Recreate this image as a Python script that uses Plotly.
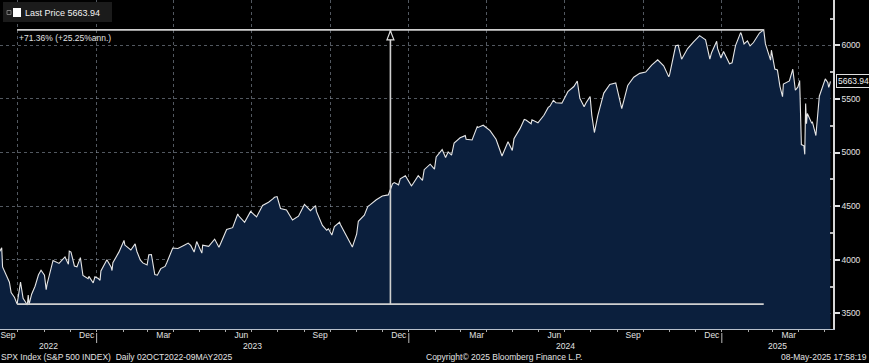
import pandas as pd
import plotly.graph_objects as go

# ---------------- data (SPX daily closes) ----------------
dates = [
    "2022-09-09", "2022-09-12", "2022-09-13", "2022-09-16", "2022-09-21", "2022-09-23", "2022-09-27", "2022-09-30",
    "2022-10-04", "2022-10-07", "2022-10-12", "2022-10-13", "2022-10-14", "2022-10-17", "2022-10-21", "2022-10-25",
    "2022-10-28", "2022-11-01", "2022-11-03", "2022-11-04", "2022-11-10", "2022-11-11", "2022-11-18", "2022-11-25",
    "2022-11-29", "2022-11-30", "2022-12-02", "2022-12-06", "2022-12-09", "2022-12-13", "2022-12-16", "2022-12-22",
    "2022-12-23", "2022-12-28", "2022-12-30",
    "2023-01-03", "2023-01-05", "2023-01-06", "2023-01-13", "2023-01-18", "2023-01-19", "2023-01-20", "2023-01-27",
    "2023-02-02", "2023-02-03", "2023-02-10", "2023-02-15", "2023-02-17", "2023-02-21", "2023-02-24", "2023-03-01",
    "2023-03-03", "2023-03-06", "2023-03-10", "2023-03-13", "2023-03-17", "2023-03-22", "2023-03-24", "2023-03-31",
    "2023-04-06", "2023-04-14", "2023-04-18", "2023-04-21", "2023-04-25", "2023-04-28", "2023-05-04", "2023-05-05",
    "2023-05-12", "2023-05-19", "2023-05-24", "2023-05-26", "2023-06-02", "2023-06-09", "2023-06-15", "2023-06-16",
    "2023-06-23", "2023-06-30", "2023-07-06", "2023-07-07", "2023-07-14", "2023-07-21", "2023-07-26", "2023-07-28",
    "2023-07-31", "2023-08-04", "2023-08-11", "2023-08-18", "2023-08-25", "2023-09-01", "2023-09-08", "2023-09-14",
    "2023-09-15", "2023-09-22", "2023-09-27", "2023-09-29", "2023-10-03", "2023-10-06", "2023-10-12", "2023-10-13",
    "2023-10-20", "2023-10-27", "2023-11-01", "2023-11-03", "2023-11-10", "2023-11-14", "2023-11-17", "2023-11-24",
    "2023-12-01", "2023-12-08", "2023-12-13", "2023-12-15", "2023-12-20", "2023-12-22", "2023-12-28", "2023-12-29",
    "2024-01-04", "2024-01-05", "2024-01-12", "2024-01-17", "2024-01-19", "2024-01-26", "2024-01-31", "2024-02-02",
    "2024-02-09", "2024-02-13", "2024-02-16", "2024-02-20", "2024-02-23", "2024-03-01", "2024-03-07", "2024-03-08",
    "2024-03-15", "2024-03-21", "2024-03-22", "2024-03-28", "2024-04-05", "2024-04-12", "2024-04-19", "2024-04-26",
    "2024-05-01", "2024-05-03", "2024-05-10", "2024-05-15", "2024-05-17", "2024-05-23", "2024-05-24", "2024-05-31",
    "2024-06-07", "2024-06-12", "2024-06-14", "2024-06-18", "2024-06-21", "2024-06-28", "2024-07-05", "2024-07-12",
    "2024-07-16", "2024-07-19", "2024-07-24", "2024-07-26", "2024-07-31", "2024-08-02", "2024-08-05", "2024-08-09",
    "2024-08-16", "2024-08-23", "2024-08-30", "2024-09-06", "2024-09-13", "2024-09-20", "2024-09-27", "2024-10-04",
    "2024-10-11", "2024-10-18", "2024-10-25", "2024-10-31", "2024-11-01", "2024-11-08", "2024-11-11", "2024-11-15",
    "2024-11-22", "2024-11-29", "2024-12-06", "2024-12-13", "2024-12-18", "2024-12-20", "2024-12-26", "2024-12-27",
    "2024-12-31",
    "2025-01-03", "2025-01-10", "2025-01-13", "2025-01-17", "2025-01-23", "2025-01-24", "2025-01-27", "2025-01-31",
    "2025-02-03", "2025-02-07", "2025-02-14", "2025-02-19", "2025-02-21", "2025-02-27", "2025-02-28", "2025-03-04",
    "2025-03-07", "2025-03-10", "2025-03-13", "2025-03-14", "2025-03-21", "2025-03-25", "2025-03-28", "2025-03-31",
    "2025-04-02", "2025-04-03", "2025-04-04", "2025-04-07", "2025-04-08", "2025-04-09", "2025-04-10", "2025-04-11",
    "2025-04-16", "2025-04-17", "2025-04-21", "2025-04-25", "2025-05-02", "2025-05-05", "2025-05-06", "2025-05-07",
    "2025-05-08",
]
prices = [
    4067.36, 4110.41, 3932.69, 3873.33, 3789.93, 3693.23, 3647.29, 3585.62,
    3790.93, 3639.66, 3577.03, 3669.91, 3583.07, 3677.95, 3752.75, 3859.11,
    3901.06, 3856.10, 3719.89, 3770.55, 3956.37, 3992.93, 3965.34, 4026.12,
    3957.63, 4080.11, 4071.70, 3941.26, 3934.38, 4019.65, 3852.36, 3822.39,
    3844.82, 3783.22, 3839.50,
    3824.14, 3808.10, 3895.08, 3999.09, 3928.86, 3898.85, 3972.61, 4070.56,
    4179.76, 4136.48, 4090.46, 4147.60, 4079.09, 3997.34, 3970.04, 3951.39,
    4045.64, 4048.42, 3861.59, 3855.76, 3916.64, 3936.97, 3970.99, 4109.31,
    4105.02, 4137.64, 4154.87, 4133.52, 4071.63, 4169.48, 4061.22, 4136.25,
    4124.08, 4191.98, 4115.24, 4151.28, 4282.37, 4298.86, 4425.84, 4409.59,
    4348.33, 4450.38, 4411.59, 4398.95, 4505.42, 4536.34, 4566.75, 4582.23,
    4588.96, 4478.03, 4464.05, 4369.71, 4405.71, 4515.77, 4457.49, 4505.10,
    4450.32, 4320.06, 4274.51, 4288.05, 4229.45, 4308.50, 4349.61, 4327.78,
    4224.16, 4117.37, 4237.86, 4358.34, 4415.24, 4495.70, 4514.02, 4559.34,
    4594.63, 4604.37, 4707.09, 4719.19, 4698.35, 4754.63, 4783.35, 4769.83,
    4688.68, 4697.24, 4783.83, 4739.21, 4839.81, 4890.97, 4845.65, 4958.61,
    5026.61, 4953.17, 5005.57, 4975.51, 5088.80, 5137.08, 5157.36, 5123.69,
    5117.09, 5241.53, 5234.18, 5254.35, 5204.34, 5123.41, 4967.23, 5099.96,
    5018.39, 5127.79, 5222.68, 5308.15, 5303.27, 5267.84, 5304.72, 5277.51,
    5346.99, 5421.03, 5431.60, 5487.03, 5464.62, 5460.48, 5567.19, 5615.35,
    5667.20, 5505.00, 5427.13, 5459.10, 5522.30, 5346.56, 5186.33, 5344.16,
    5554.25, 5634.61, 5648.40, 5408.42, 5626.02, 5702.55, 5738.17, 5751.07,
    5815.03, 5864.67, 5808.12, 5705.45, 5728.80, 5995.54, 6001.35, 5870.62,
    5969.34, 6032.38, 6090.27, 6051.09, 5872.16, 5930.85, 6037.59, 5970.84,
    5881.63,
    5942.47, 5827.04, 5836.22, 5996.66, 6118.71, 6101.24, 6012.28, 6040.53,
    5994.57, 6025.99, 6114.63, 6144.15, 6013.13, 5861.57, 5954.50, 5778.15,
    5770.20, 5614.56, 5521.52, 5638.94, 5667.56, 5776.65, 5580.94, 5611.85,
    5670.97, 5396.52, 5074.08, 5062.25, 4982.77, 5456.90, 5268.05, 5363.36,
    5275.70, 5282.70, 5158.20, 5525.21, 5686.67, 5650.38, 5606.91, 5631.28,
    5663.94,
]
month_ticks = ["2022-10-01", "2023-01-01", "2023-04-01", "2023-07-01", "2023-10-01", "2024-01-01",
               "2024-04-01", "2024-07-01", "2024-10-01", "2025-01-01", "2025-04-01"]
month_labels = ["Sep", "Dec", "Mar", "Jun", "Sep", "Dec", "Mar", "Jun", "Sep", "Dec", "Mar"]
years = ["2022", "2023", "2024", "2025"]
y_ticks = [3500, 4000, 4500, 5000, 5500, 6000]

low_date, low_val = "2022-09-30", 3585.62
high_date, high_val = "2025-02-19", 6144.15
last_val = prices[-1]
change_text = "+71.36% (+25.25%ann.)"

# ---------------- figure ----------------
FONT = "Liberation Sans, Arial, sans-serif"
GRID = "rgba(150,160,175,0.55)"
TXT = "#e2e2e2"
FS = 8.5
x_range = ["2022-09-10", "2025-05-11"]
y_range = [3353.5, 6422.6]

fig = go.Figure()
fig.add_trace(go.Scatter(
    x=dates, y=prices, mode="lines",
    line=dict(color="#e6e6e6", width=1.1),
    fill="tozeroy", fillcolor="#0b1f3d",
    hoverinfo="skip", showlegend=False,
))

shapes = []
ann = []

# measurement lines (low / high levels + vertical arrow at midpoint)
mid_date = pd.Timestamp(low_date) + (pd.Timestamp(high_date) - pd.Timestamp(low_date)) / 2
line_style = dict(color="#cfcfcf", width=1.6)
shapes.append(dict(type="line", xref="x", yref="y", x0=low_date, x1=high_date, y0=low_val, y1=low_val, line=line_style))
shapes.append(dict(type="line", xref="x", yref="y", x0=low_date, x1=high_date, y0=high_val, y1=high_val, line=line_style))
shapes.append(dict(type="line", xref="x", yref="y", x0=mid_date, x1=mid_date, y0=low_val, y1=high_val, line=line_style))
shapes.append(dict(type="path", xref="x", yref="y", xsizemode="pixel", ysizemode="pixel",
                   xanchor=mid_date, yanchor=high_val,
                   path="M -3.5,-10 L 0,-1 L 3.5,-10 Z",
                   fillcolor="black", line=dict(color="#e0e0e0", width=1.2)))
ann.append(dict(x=low_date, y=high_val, xref="x", yref="y", text=change_text, showarrow=False,
                xanchor="left", yanchor="top", xshift=0, yshift=-1,
                font=dict(family=FONT, size=FS, color=TXT)))

# year labels and separators
xs = pd.Timestamp(x_range[0]); xe = pd.Timestamp(x_range[1])
for yv in years:
    a = max(xs, pd.Timestamp(f"{yv}-01-01"))
    b = min(xe, pd.Timestamp(f"{int(yv)+1}-01-01"))
    ann.append(dict(x=a + (b - a) / 2, y=0, xref="x", yref="paper", text=yv, showarrow=False,
                    yanchor="middle", yshift=-17, font=dict(family=FONT, size=FS, color=TXT)))
    jan = pd.Timestamp(f"{yv}-01-01")
    if xs < jan < xe:
        shapes.append(dict(type="line", xref="x", yref="paper", x0=jan, x1=jan,
                           y0=-4 / 329, y1=-14 / 329, line=dict(color="#bbbbbb", width=1)))

# footer
ann.append(dict(x=0, y=0, xref="paper", yref="paper", text="SPX Index (S&amp;P 500 INDEX)  Daily 02OCT2022-09MAY2025",
                showarrow=False, xanchor="left", yanchor="middle", yshift=-28, xshift=-1,
                font=dict(family=FONT, size=FS, color=TXT)))
ann.append(dict(x=424 / 833, y=0, xref="paper", yref="paper", text="Copyright© 2025 Bloomberg Finance L.P.",
                showarrow=False, xanchor="left", yanchor="middle", yshift=-28,
                font=dict(family=FONT, size=FS, color=TXT)))
ann.append(dict(x=869 / 833, y=0, xref="paper", yref="paper", text="08-May-2025 17:58:19",
                showarrow=False, xanchor="right", yanchor="middle", yshift=-28,
                font=dict(family=FONT, size=FS, color=TXT)))

# last price tag on the right axis
ann.append(dict(x=1, y=last_val, xref="paper", yref="y", text=f"{last_val:.2f}", showarrow=False,
                xanchor="left", yanchor="middle", xshift=3,
                bgcolor="black", bordercolor="#e0e0e0", borderwidth=1, borderpad=1,
                font=dict(family=FONT, size=FS, color="#f0f0f0")))

# legend box top-left
shapes.append(dict(type="rect", xref="paper", yref="paper", x0=3 / 833, x1=112 / 833,
                   y0=1 - 22 / 329, y1=1 - 2 / 329, fillcolor="#1b1b1b", line=dict(width=0), layer="above"))
shapes.append(dict(type="rect", xref="paper", yref="paper", x0=7 / 833, x1=11 / 833,
                   y0=1 - 14.5 / 329, y1=1 - 10.5 / 329, fillcolor="rgba(0,0,0,0)", line=dict(color="#777", width=1), layer="above"))
shapes.append(dict(type="rect", xref="paper", yref="paper", x0=13 / 833, x1=21 / 833,
                   y0=1 - 17 / 329, y1=1 - 8 / 329, fillcolor="white", line=dict(width=0), layer="above"))
ann.append(dict(x=23 / 833, y=1 - 12.5 / 329, xref="paper", yref="paper", text=f"Last Price {last_val:.2f}",
                showarrow=False, xanchor="left", yanchor="middle",
                font=dict(family=FONT, size=9, color="#f2f2f2")))

fig.update_layout(
    width=869, height=363,
    margin=dict(l=0, r=36, t=0, b=34, autoexpand=False),
    paper_bgcolor="black", plot_bgcolor="black",
    font=dict(family=FONT, size=FS, color=TXT),
    showlegend=False,
    shapes=shapes, annotations=ann,
    xaxis=dict(
        type="date", range=x_range, automargin=False,
        tickmode="array", tickvals=month_ticks, ticktext=month_labels,
        ticklabelshift=-10, ticklabelstandoff=-4, ticklabeloverflow="allow",
        ticks="outside", ticklen=2, tickcolor="#aaaaaa",
        showgrid=True, griddash="dot", gridcolor=GRID, gridwidth=1,
        showline=True, linecolor="#b8c0cc", linewidth=1,
        zeroline=False,
        minor=dict(tickmode="linear", tick0="2022-10-01", dtick="M1", ticks="outside",
                   ticklen=2, tickcolor="#aaaaaa", showgrid=False),
        tickfont=dict(family=FONT, size=FS, color=TXT),
        fixedrange=True,
    ),
    yaxis=dict(
        side="right", range=y_range, automargin=False,
        tickmode="array", tickvals=y_ticks, ticktext=[str(v) for v in y_ticks],
        ticks="outside", ticklen=5, tickwidth=2, tickcolor="#e0e0e0",
        showgrid=True, griddash="dot", gridcolor=GRID, gridwidth=1,
        showline=True, linecolor="#d8d8d8", linewidth=1.5,
        zeroline=False,
        minor=dict(tickmode="linear", tick0=3250, dtick=500, ticks="inside", ticklen=3,
                   tickcolor="#bbbbbb", showgrid=False),
        tickfont=dict(family=FONT, size=FS, color=TXT),
        fixedrange=True,
    ),
)

fig.write_html("out.html", config={"displayModeBar": False},
               post_script="document.body.style.margin='0px';document.body.style.background='black';")
